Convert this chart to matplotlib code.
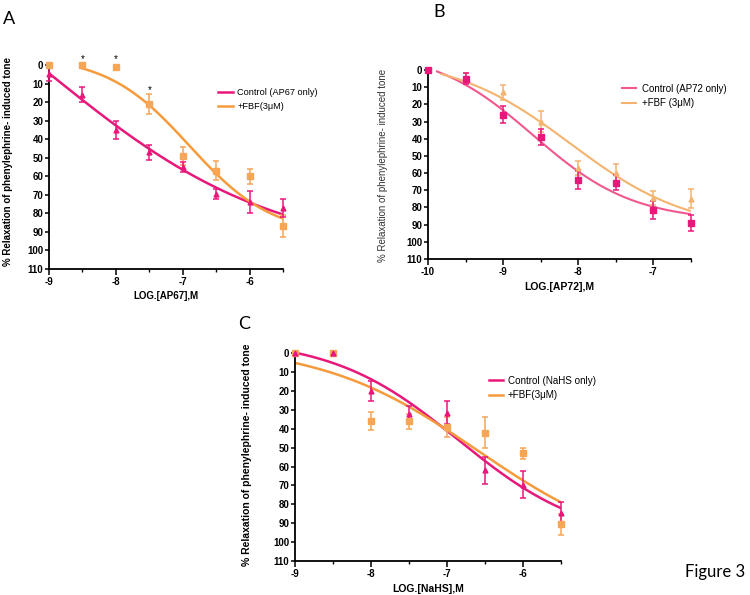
import numpy as np
import matplotlib
matplotlib.use("Agg")
import matplotlib.pyplot as plt
from matplotlib.ticker import MultipleLocator

plt.rcParams['font.family'] = ['Liberation Sans', 'DejaVu Sans']
plt.rcParams['axes.unicode_minus'] = False

# ---------------- Data ----------------
# Panel A (AP67)
a_x = [-9, -8.5, -8, -7.5, -7, -6.5, -6, -5.5]
a_ctrl = [5, 16, 35, 47, 55, 69.5, 74, 77]
a_ctrl_err = [3.5, 4, 5, 4, 2.5, 2.5, 6, 5]
a_fbf = [0, 0, 1, 21, 49, 57, 60, 87]
a_fbf_err = [0, 0, 0, 5.5, 5, 5, 4, 6]
a_star_x = [-8.5, -8, -7.5]
a_star_y = [-3, -3, 13.5]
# fitted curve parameters (bottom, top, logEC50, hill), x range
a_ctrl_fit = (-94, 103, -9.0, 0.255)
a_ctrl_range = (-9, -5.5)
a_fbf_fit = (-5, 92, -6.9, 0.7)
a_fbf_range = (-8.5, -5.5)

# Panel B (AP72)
b_x = [-10, -9.5, -9, -8.5, -8, -7.5, -7, -6.5]
b_ctrl = [0, 5, 26, 39, 64, 65.5, 81.5, 89]
b_ctrl_err = [0, 3, 5, 4.5, 5.5, 4.5, 5, 4.5]
b_fbf = [0, 4.5, 13, 30, 57, 60, 74.5, 75]
b_fbf_err = [0, 3, 4.5, 6, 4, 5.5, 4, 5.5]
b_ctrl_fit = (-12, 88, -8.6, 0.65)
b_ctrl_range = (-9.88, -6.5)
b_fbf_fit = (-8, 94, -8.1, 0.55)
b_fbf_range = (-9.82, -6.5)

# Panel C (NaHS)
c_x = [-9, -8.5, -8, -7.5, -7, -6.5, -6, -5.5]
c_ctrl = [0, 0, 20, 32, 31.5, 62, 69.5, 84.5]
c_ctrl_err = [0, 0, 5.5, 4, 6, 7, 7, 5.5]
c_fbf = [0, 0, 36, 36, 39, 42, 53, 90.5]
c_fbf_err = [0, 0, 4.8, 4, 5.5, 8, 3, 5.5]
c_ctrl_fit = (-8, 100, -6.85, 0.52)
c_ctrl_range = (-9, -5.5)
c_fbf_fit = (-5, 108, -6.6, 0.42)
c_fbf_range = (-9, -5.5)

ylabel = "% Relaxation of phenylephrine- induced tone"

PINK = "#e8187b"
PINK_L = "#f2588e"
ORANGE = "#f59b3c"
ORANGE_M = "#f7a655"
ORANGE_L = "#f4b36e"

W, H = 750, 595
fig = plt.figure(figsize=(7.5, 5.95), dpi=100)


def px_axes(x0, x1, y0_px, y110_px, xmin, xmax):
    """Create axes from pixel positions of x=xmin..xmax and y=0..110."""
    ppu = (y110_px - y0_px) / 110.0
    ytop = y0_px - 1.0 * ppu
    ax = fig.add_axes([x0 / W, 1 - y110_px / H, (x1 - x0) / W, (y110_px - ytop) / H])
    ax.set_xlim(xmin, xmax)
    ax.set_ylim(110, -1)
    return ax


def fourpl(p, xr):
    b, t, c, h = p
    xs = np.linspace(xr[0], xr[1], 200)
    return xs, b + (t - b) / (1 + 10 ** ((c - xs) * h))


def style(ax, xlabel, xlsize):
    for s in ['top', 'right']:
        ax.spines[s].set_visible(False)
    for s in ['left', 'bottom']:
        ax.spines[s].set_linewidth(1.3)
    ax.yaxis.set_major_locator(MultipleLocator(10))
    ax.xaxis.set_major_locator(MultipleLocator(1))
    ax.xaxis.set_minor_locator(MultipleLocator(0.5))
    ax.tick_params(axis='y', length=3, width=1.1, pad=1, labelsize=7)
    ax.tick_params(axis='x', which='major', length=4, width=1.1, pad=2, labelsize=7)
    ax.tick_params(axis='x', which='minor', length=2, width=1.0)
    for lab in ax.get_xticklabels() + ax.get_yticklabels():
        lab.set_fontweight('bold')
    ax.set_xlabel(xlabel, fontsize=xlsize, fontweight='bold', labelpad=3)
    ax.patch.set_alpha(0)


def draw(ax, x, y, e, marker, mcolor, ecolor, ms):
    ax.errorbar(x, y, yerr=e, fmt=marker, color=mcolor, ecolor=ecolor,
                ms=ms, mec=mcolor, elinewidth=1.1, capsize=2.4, capthick=1.1,
                clip_on=False, zorder=3)


# ---------- Panel A ----------
axA = px_axes(49, 283, 65, 269, -9, -5.5)
xs, ys = fourpl(a_ctrl_fit, a_ctrl_range)
lA1, = axA.plot(xs, ys, color=PINK, lw=1.8, label="Control (AP67 only)", zorder=2)
xs, ys = fourpl(a_fbf_fit, a_fbf_range)
lA2, = axA.plot(xs, ys, color=ORANGE, lw=1.8, label="+FBF(3μM)", zorder=2)
draw(axA, a_x, a_fbf, a_fbf_err, 's', ORANGE_M, ORANGE_M, 4)
draw(axA, a_x, a_ctrl, a_ctrl_err, '^', PINK, PINK, 3.5)
for sx, sy in zip(a_star_x, a_star_y):
    axA.text(sx, sy, "*", ha='center', va='center', fontsize=7, clip_on=False)
style(axA, "LOG.[AP67],M", 7)
fig.legend(handles=[lA1, lA2], loc='center left', bbox_to_anchor=(218 / W, 1 - 99.5 / H),
           frameon=False, fontsize=6.6, handlelength=1.6, handletextpad=0.5,
           labelspacing=0.6, borderpad=0, borderaxespad=0)

# ---------- Panel B ----------
axB = px_axes(428, 691, 70, 259, -10, -6.5)
xs, ys = fourpl(b_ctrl_fit, b_ctrl_range)
lB1, = axB.plot(xs, ys, color=PINK_L, lw=1.5, label="Control (AP72 only)", zorder=2)
xs, ys = fourpl(b_fbf_fit, b_fbf_range)
lB2, = axB.plot(xs, ys, color=ORANGE_L, lw=1.5, label="+FBF (3μM)", zorder=2)
draw(axB, b_x, b_fbf, b_fbf_err, '^', ORANGE_L, ORANGE_L, 3.5)
draw(axB, b_x, b_ctrl, b_ctrl_err, 's', PINK, PINK, 4)
style(axB, "LOG.[AP72],M", 7.5)
fig.legend(handles=[lB1, lB2], loc='center left', bbox_to_anchor=(622 / W, 1 - 96 / H),
           frameon=False, fontsize=7, handlelength=1.4, handletextpad=0.7,
           labelspacing=0.45, borderpad=0, borderaxespad=0)

# ---------- Panel C ----------
axC = px_axes(295, 561.4, 353.3, 561, -9, -5.5)
xs, ys = fourpl(c_ctrl_fit, c_ctrl_range)
lC1, = axC.plot(xs, ys, color=PINK, lw=1.8, label="Control (NaHS only)", zorder=2)
xs, ys = fourpl(c_fbf_fit, c_fbf_range)
lC2, = axC.plot(xs, ys, color=ORANGE, lw=1.8, label="+FBF(3μM)", zorder=2)
draw(axC, c_x, c_fbf, c_fbf_err, 's', ORANGE_M, ORANGE_M, 4)
draw(axC, c_x, c_ctrl, c_ctrl_err, '^', PINK, PINK, 3.5)
style(axC, "LOG.[NaHS],M", 7.5)
fig.legend(handles=[lC1, lC2], loc='center left', bbox_to_anchor=(489 / W, 1 - 388 / H),
           frameon=False, fontsize=7.1, handlelength=1.4, handletextpad=0.5,
           labelspacing=0.45, borderpad=0, borderaxespad=0)

# ---------- Y labels ----------
fig.text(8 / W, 1 - 162 / H, ylabel, rotation=90, ha='center', va='center',
         fontsize=7, fontweight='bold')
fig.text(383 / W, 1 - 165 / H, ylabel, rotation=90, ha='center', va='center',
         fontsize=7, color='#333333')
fig.text(247 / W, 1 - 455 / H, ylabel, rotation=90, ha='center', va='center',
         fontsize=7.5, fontweight='bold')

# ---------- Panel letters ----------
fig.text(3 / W, 1 - 19 / H, "A", fontsize=13, family=['Lato', 'DejaVu Sans'], va='center')
fig.text(433 / W, 1 - 12 / H, "B", fontsize=13, family=['Lato', 'DejaVu Sans'], va='center')
fig.text(238 / W, 1 - 324 / H, "C", fontsize=13, family=['Lato', 'DejaVu Sans'], va='center')
fig.text(745 / W, 1 - 572 / H, "Figure 3", fontsize=12, family=['Lato', 'DejaVu Sans'],
         ha='right', va='center')

fig.savefig("out.png", dpi=100, facecolor='white')
